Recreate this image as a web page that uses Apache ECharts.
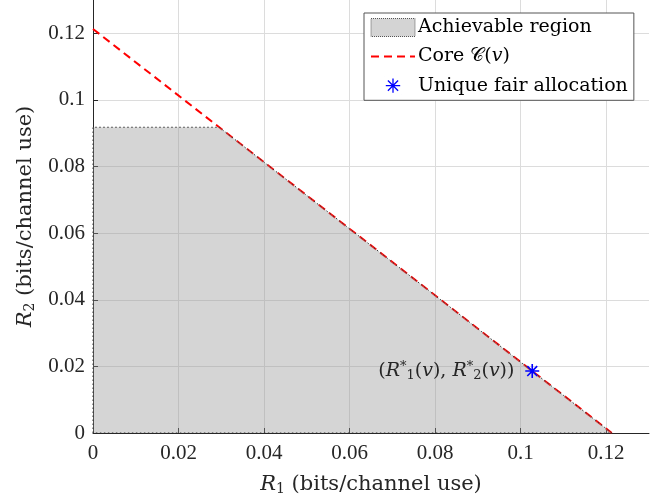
<!DOCTYPE html>
<html>
<head>
<meta charset="utf-8">
<script src="https://cdn.jsdelivr.net/npm/echarts@6/dist/echarts.min.js"></script>
<style>html,body{margin:0;padding:0;background:#fff}#c{width:660px;height:501px}</style>
</head>
<body>
<div id="c"></div>
<script>
// Data
var regionPoints = [[0, 0], [0, 0.0918], [0.0295, 0.0918], [0.1213, 0], [0, 0]];
var corePoints = [[0, 0.1213], [0.1213, 0]];
var fairPoint = [[0.1027, 0.0186]];
var xTicks = [0, 0.02, 0.04, 0.06, 0.08, 0.1, 0.12];
var yTicks = [0, 0.02, 0.04, 0.06, 0.08, 0.1, 0.12];
var seriesNames = ['Achievable region', 'Core C(v)', 'Unique fair allocation'];

var FONT = 'Liberation Serif';
var FONT2 = 'DejaVu Serif';
var TXT = '#262626';
var asterisk = 'path://M0,-10L0,10M-10,0L10,0M-7.07,-7.07L7.07,7.07M-7.07,7.07L7.07,-7.07';
var asteriskLegend = 'path://M-10,-10L-9.99,-10M10,10L9.99,10M0,-8L0,8M-8,0L8,0M-5.66,-5.66L5.66,5.66M-5.66,5.66L5.66,-5.66';

var nameRich = {
  i: {fontSize: 21, fontStyle: 'italic', fontFamily: FONT2, color: TXT},
  s: {fontSize: 14, fontFamily: FONT2, color: TXT, padding: [9, 0, 0, 0]},
  n: {fontSize: 21, fontFamily: FONT2, color: TXT}
};

var chart = echarts.init(document.getElementById('c'), null, {renderer: 'canvas'});
chart.setOption({
  backgroundColor: '#fff',
  animation: false,
  textStyle: {fontFamily: FONT},
  grid: {left: 93, right: 11, top: 0, bottom: 68, containLabel: false},
  xAxis: {
    type: 'value', min: 0, max: 0.13, interval: 0.02,
    axisLine: {show: true, onZero: false, lineStyle: {color: '#262626', width: 1}},
    axisTick: {show: true, inside: true, length: 5, lineStyle: {color: '#262626'}},
    axisLabel: {color: TXT, fontSize: 21, fontFamily: FONT, margin: 10, showMaxLabel: false,
      formatter: function (v) { var r = Math.round(v * 100) / 100; return xTicks.indexOf(r) >= 0 ? String(r) : ''; }},
    splitLine: {show: true, showMaxLine: false, lineStyle: {color: '#dcdcdc', width: 1}},
    name: '{i|R}{s|1}{n| (bits/channel use)}',
    nameLocation: 'middle', nameGap: 40,
    nameTextStyle: {color: TXT, fontFamily: FONT2, rich: nameRich}
  },
  yAxis: {
    type: 'value', min: 0, max: 0.13, interval: 0.02,
    axisLine: {show: true, onZero: false, lineStyle: {color: '#262626', width: 1}},
    axisTick: {show: true, inside: true, length: 5, lineStyle: {color: '#262626'}},
    axisLabel: {color: TXT, fontSize: 21, fontFamily: FONT, margin: 8, showMaxLabel: false,
      formatter: function (v) { var r = Math.round(v * 100) / 100; return yTicks.indexOf(r) >= 0 ? String(r) : ''; }},
    splitLine: {show: true, showMaxLine: false, lineStyle: {color: '#dcdcdc', width: 1}},
    name: '{i|R}{s|2}{n| (bits/channel use)}',
    nameLocation: 'middle', nameGap: 56, nameRotate: 90,
    nameTextStyle: {color: TXT, fontFamily: FONT2, rich: nameRich}
  },
  legend: {
    orient: 'vertical', left: 364, top: 13,
    itemWidth: 44, itemHeight: 18, itemGap: 10,
    padding: [5, 6, 5, 6],
    backgroundColor: '#fff', borderColor: '#555', borderWidth: 1, borderRadius: 0,
    textStyle: {fontFamily: FONT2, fontSize: 19, color: '#000', padding: [0, 0, 0, -2],
      rich: {
        n: {fontFamily: FONT2, fontSize: 19, color: '#000'},
        c: {fontFamily: FONT2, fontSize: 19, color: '#000'},
        i: {fontFamily: FONT2, fontSize: 19, color: '#000', fontStyle: 'italic'}
      }},
    formatter: function (name) {
      if (name === seriesNames[1]) { return '{n|Core }{c|\u{1D49E}}{n|(}{i|v}{n|)}'; }
      return name;
    },
    selectedMode: false,
    data: [
      {name: seriesNames[0], icon: 'rect', itemStyle: {color: '#d4d4d4', borderColor: '#555', borderWidth: 1, borderType: 'dotted'}},
      {name: seriesNames[1], itemStyle: {color: 'rgba(0,0,0,0)', borderWidth: 0, opacity: 0}},
      {name: seriesNames[2], icon: asteriskLegend, itemStyle: {color: '#0000ff', borderColor: '#0000ff', borderWidth: 1.3}}
    ]
  },
  series: [
    {
      name: seriesNames[1], type: 'line', data: corePoints, symbol: 'none', z: 3,
      lineStyle: {color: '#ff0000', width: 2, type: [8, 5]}
    },
    {
      name: seriesNames[0], type: 'line', data: regionPoints, symbol: 'none', z: 4,
      lineStyle: {color: '#333', width: 1, type: [1.5, 2.5]},
      itemStyle: {color: '#d4d4d4'},
      areaStyle: {color: 'rgba(150,150,150,0.4)', opacity: 1, origin: 0}
    },
    {
      name: seriesNames[2], type: 'scatter', data: fairPoint, z: 5,
      symbol: asterisk, symbolSize: 14, symbolKeepAspect: true,
      itemStyle: {color: '#0000ff', borderColor: '#0000ff', borderWidth: 1.6, opacity: 1},
      label: {
        show: true, position: 'left', distance: 10,
        formatter: '{n|(}{i|R}{p|*}{b|1}{n|(}{i|v}{n|), }{i|R}{p|*}{b|2}{n|(}{i|v}{n|))}',
        rich: {
          n: {fontSize: 19, fontFamily: FONT2, color: TXT},
          i: {fontSize: 19, fontFamily: FONT2, fontStyle: 'italic', color: TXT},
          p: {fontSize: 13, fontFamily: FONT2, color: TXT, padding: [0, 0, 9, 0]},
          b: {fontSize: 13, fontFamily: FONT2, color: TXT, padding: [9, 0, 0, 0]}
        }
      }
    }
  ]
});
</script>
</body>
</html>
